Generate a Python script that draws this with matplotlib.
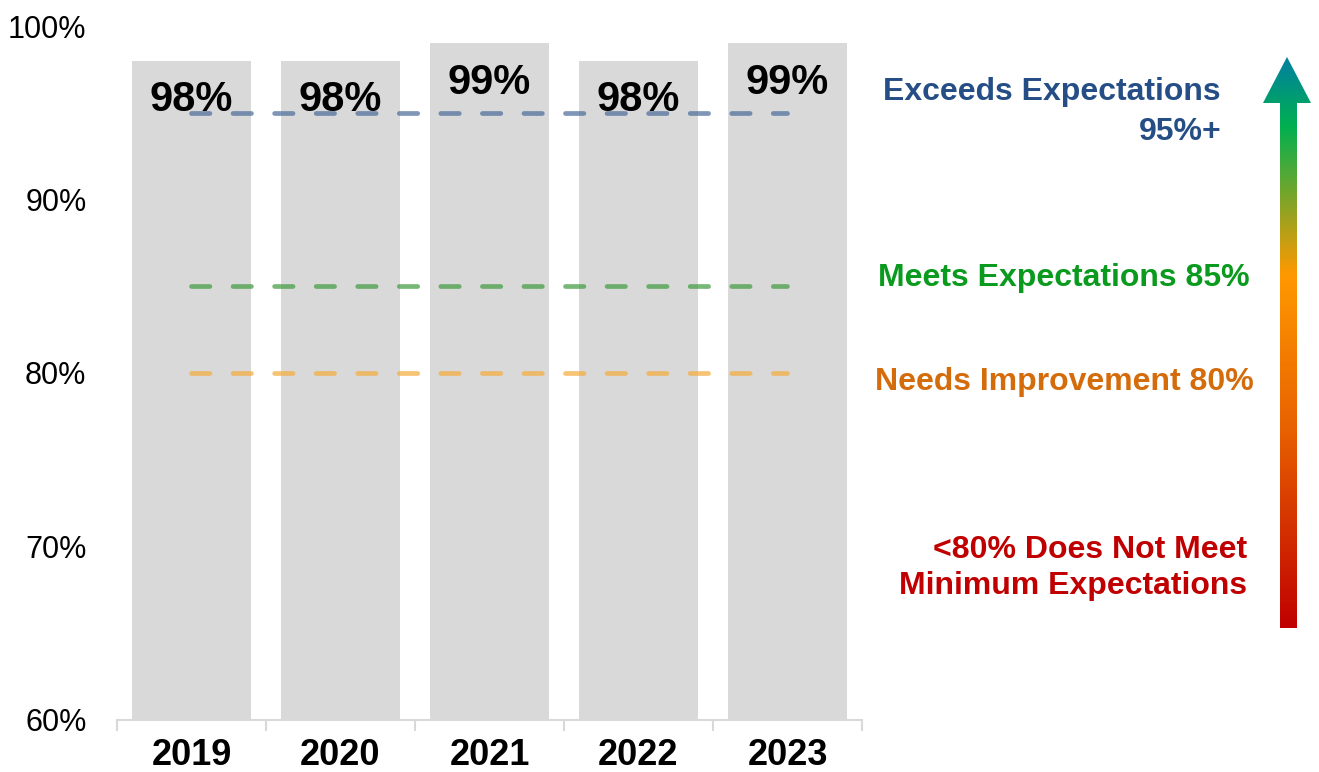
import matplotlib.pyplot as plt
import numpy as np
from matplotlib.colors import LinearSegmentedColormap
from matplotlib.patches import Polygon

plt.rcParams['font.family'] = ['Liberation Sans', 'DejaVu Sans']

# datos
anios = ['2019', '2020', '2021', '2022', '2023']
valores = [98, 98, 99, 98, 99]
umbral_excede = 95
umbral_cumple = 85
umbral_mejora = 80
yticks = [60, 70, 80, 90, 100]

fig = plt.figure(figsize=(13.19, 7.72), dpi=100)
ax = fig.add_axes([0.0887, 0.0674, 0.5648, 0.8989])

x = np.arange(len(anios))
ax.bar(x, valores, width=0.8, color='#D9D9D9', zorder=1)

# etiquetas dentro de las barras
for xi, v in zip(x, valores):
    ax.annotate(f'{v}%', (xi, v), xytext=(0, -14), textcoords='offset points',
                ha='center', va='top', fontsize=30, fontweight='bold',
                color='black', zorder=2)

# lineas de umbral
dash_kw = dict(linewidth=3.4, dashes=(3.9, 4.9), dash_capstyle='round', zorder=3)
ax.plot([x[0], x[-1]], [umbral_excede] * 2, color='#4A6A98', alpha=0.7, **dash_kw)
ax.plot([x[0], x[-1]], [umbral_cumple] * 2, color='#3E9B3E', alpha=0.7, **dash_kw)
ax.plot([x[0], x[-1]], [umbral_mejora] * 2, color='#F5AC3A', alpha=0.7, **dash_kw)

ax.set_xlim(-0.5, len(anios) - 0.5)
ax.set_ylim(60, 100)
ax.set_yticks(yticks)
ax.set_yticklabels([f'{t}%' for t in yticks], fontsize=22)
ax.tick_params(axis='y', length=0, pad=22)
ax.set_xticks(x)
ax.set_xticklabels(anios, fontsize=26, fontweight='bold')
ax.set_xticks(np.arange(len(anios) + 1) - 0.5, minor=True)
ax.tick_params(axis='x', which='major', length=0, pad=13)
ax.tick_params(axis='x', which='minor', length=8, width=1.5, color='#D9D9D9')
for s in ['top', 'right', 'left']:
    ax.spines[s].set_visible(False)
ax.spines['bottom'].set_color('#D9D9D9')
ax.spines['bottom'].set_linewidth(1.5)

# textos de la escala
W, H = 1319, 772
def fx(px):
    return px / W
def fy(py):
    return 1 - py / H

fig.text(fx(1221), fy(112), 'Exceeds Expectations\n95%+', ha='right', va='center',
         fontsize=23, fontweight='bold', color='#264E86', linespacing=1.4)
fig.text(fx(1250), fy(278), 'Meets Expectations 85%', ha='right', va='center',
         fontsize=23, fontweight='bold', color='#0A9A1E')
fig.text(fx(1254), fy(382), 'Needs Improvement 80%', ha='right', va='center',
         fontsize=23, fontweight='bold', color='#D46C0C')
fig.text(fx(1247), fy(568), '<80% Does Not Meet\nMinimum Expectations', ha='right',
         va='center', fontsize=23, fontweight='bold', color='#C00000', linespacing=1.25)

# flecha con degradado
cmap = LinearSegmentedColormap.from_list(
    'escala', [(0.0, '#C00000'), (0.35, '#E86200'), (0.62, '#FF9900'),
               (0.88, '#00B050'), (1.0, '#0080A0')])
ax2 = fig.add_axes([0, 0, 1, 1])
ax2.set_xlim(0, W)
ax2.set_ylim(H, 0)
ax2.axis('off')
flecha = Polygon([(1280, 628), (1280, 103), (1263, 103), (1287, 57),
                  (1311, 103), (1297, 103), (1297, 628)],
                 closed=True, facecolor='none', edgecolor='none')
ax2.add_patch(flecha)
grad = np.linspace(0, 1, 256).reshape(-1, 1)
img = ax2.imshow(grad, cmap=cmap, origin='lower', aspect='auto',
                 extent=(1260, 1314, 628, 57))
img.set_clip_path(flecha)

fig.savefig('out.png', dpi=100)
